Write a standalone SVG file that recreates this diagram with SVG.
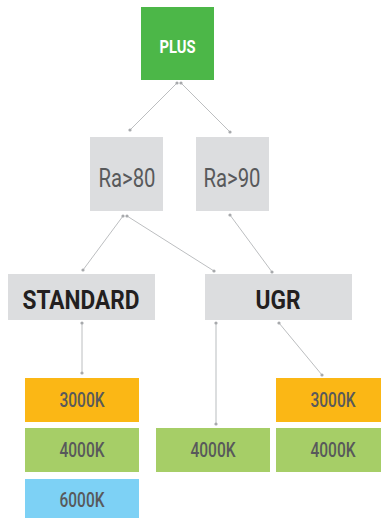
<svg xmlns="http://www.w3.org/2000/svg" width="381" height="519" viewBox="0 0 381 519">
<defs>
<style>
.t{font-family:Roboto,"DejaVu Sans Condensed","Liberation Sans",sans-serif;text-anchor:middle}
.g{fill:#dcdddf}
.b{font-weight:bold;fill:#231f20;font-size:25px}
.r{fill:#58595b;font-size:25px}
.k{fill:#58595b;font-size:20px;font-weight:500}
.c{stroke:#bcbec0;stroke-width:1;fill:none;marker-start:url(#d);marker-end:url(#d)}
</style>
<marker id="d" viewBox="0 0 4 4" refX="2" refY="2" markerWidth="4" markerHeight="4" markerUnits="userSpaceOnUse"><circle cx="2" cy="2" r="1.6" fill="#a7a9ac"/></marker>
</defs>
<rect width="381" height="519" fill="#fff"/>
<g id="connectors">
<line class="c" x1="177" y1="83" x2="130" y2="130"/>
<line class="c" x1="181" y1="83" x2="230" y2="132"/>
<line class="c" x1="123" y1="216" x2="83" y2="270"/>
<line class="c" x1="127" y1="216" x2="214" y2="271"/>
<line class="c" x1="230" y1="215" x2="272" y2="272"/>
<line class="c" x1="82" y1="323" x2="82" y2="373"/>
<line class="c" x1="216" y1="323" x2="216" y2="424" style="stroke:#d1d3d4;stroke-width:1.5"/>
<line class="c" x1="279" y1="323" x2="322" y2="375"/>
</g>
<g id="plus"><rect x="141" y="7" width="73" height="73" fill="#4cb748"/><text class="t" x="177.5" y="53" font-size="19" font-weight="bold" fill="#fff" textLength="36" lengthAdjust="spacingAndGlyphs">PLUS</text></g>
<g id="ra80"><rect class="g" x="90" y="137" width="73" height="74"/><text class="t r" x="127" y="187" textLength="57" lengthAdjust="spacingAndGlyphs">Ra&gt;80</text></g>
<g id="ra90"><rect class="g" x="196" y="137" width="73" height="74"/><text class="t r" x="232" y="187" textLength="57" lengthAdjust="spacingAndGlyphs">Ra&gt;90</text></g>
<g id="standard"><rect class="g" x="8" y="274" width="147" height="46"/><text class="t b" x="81" y="309" textLength="117" lengthAdjust="spacingAndGlyphs">STANDARD</text></g>
<g id="ugr"><rect class="g" x="205" y="274" width="147" height="46"/><text class="t b" x="278" y="309" textLength="45" lengthAdjust="spacingAndGlyphs">UGR</text></g>
<g id="s3000"><rect x="25" y="378" width="114" height="44" fill="#fbb715"/><text class="t k" x="82" y="407" textLength="45" lengthAdjust="spacingAndGlyphs">3000K</text></g>
<g id="s4000"><rect x="25" y="428" width="114" height="44" fill="#a6ce67"/><text class="t k" x="82" y="457" textLength="45" lengthAdjust="spacingAndGlyphs">4000K</text></g>
<g id="s6000"><rect x="25" y="479" width="114" height="39" fill="#7dd1f5"/><text class="t k" x="82" y="507" textLength="45" lengthAdjust="spacingAndGlyphs">6000K</text></g>
<g id="u4000a"><rect x="156" y="428" width="114" height="44" fill="#a6ce67"/><text class="t k" x="213" y="457" textLength="45" lengthAdjust="spacingAndGlyphs">4000K</text></g>
<g id="u3000"><rect x="276" y="378" width="114" height="44" fill="#fbb715"/><text class="t k" x="333" y="407" textLength="45" lengthAdjust="spacingAndGlyphs">3000K</text></g>
<g id="u4000b"><rect x="276" y="428" width="114" height="44" fill="#a6ce67"/><text class="t k" x="333" y="457" textLength="45" lengthAdjust="spacingAndGlyphs">4000K</text></g>
</svg>
